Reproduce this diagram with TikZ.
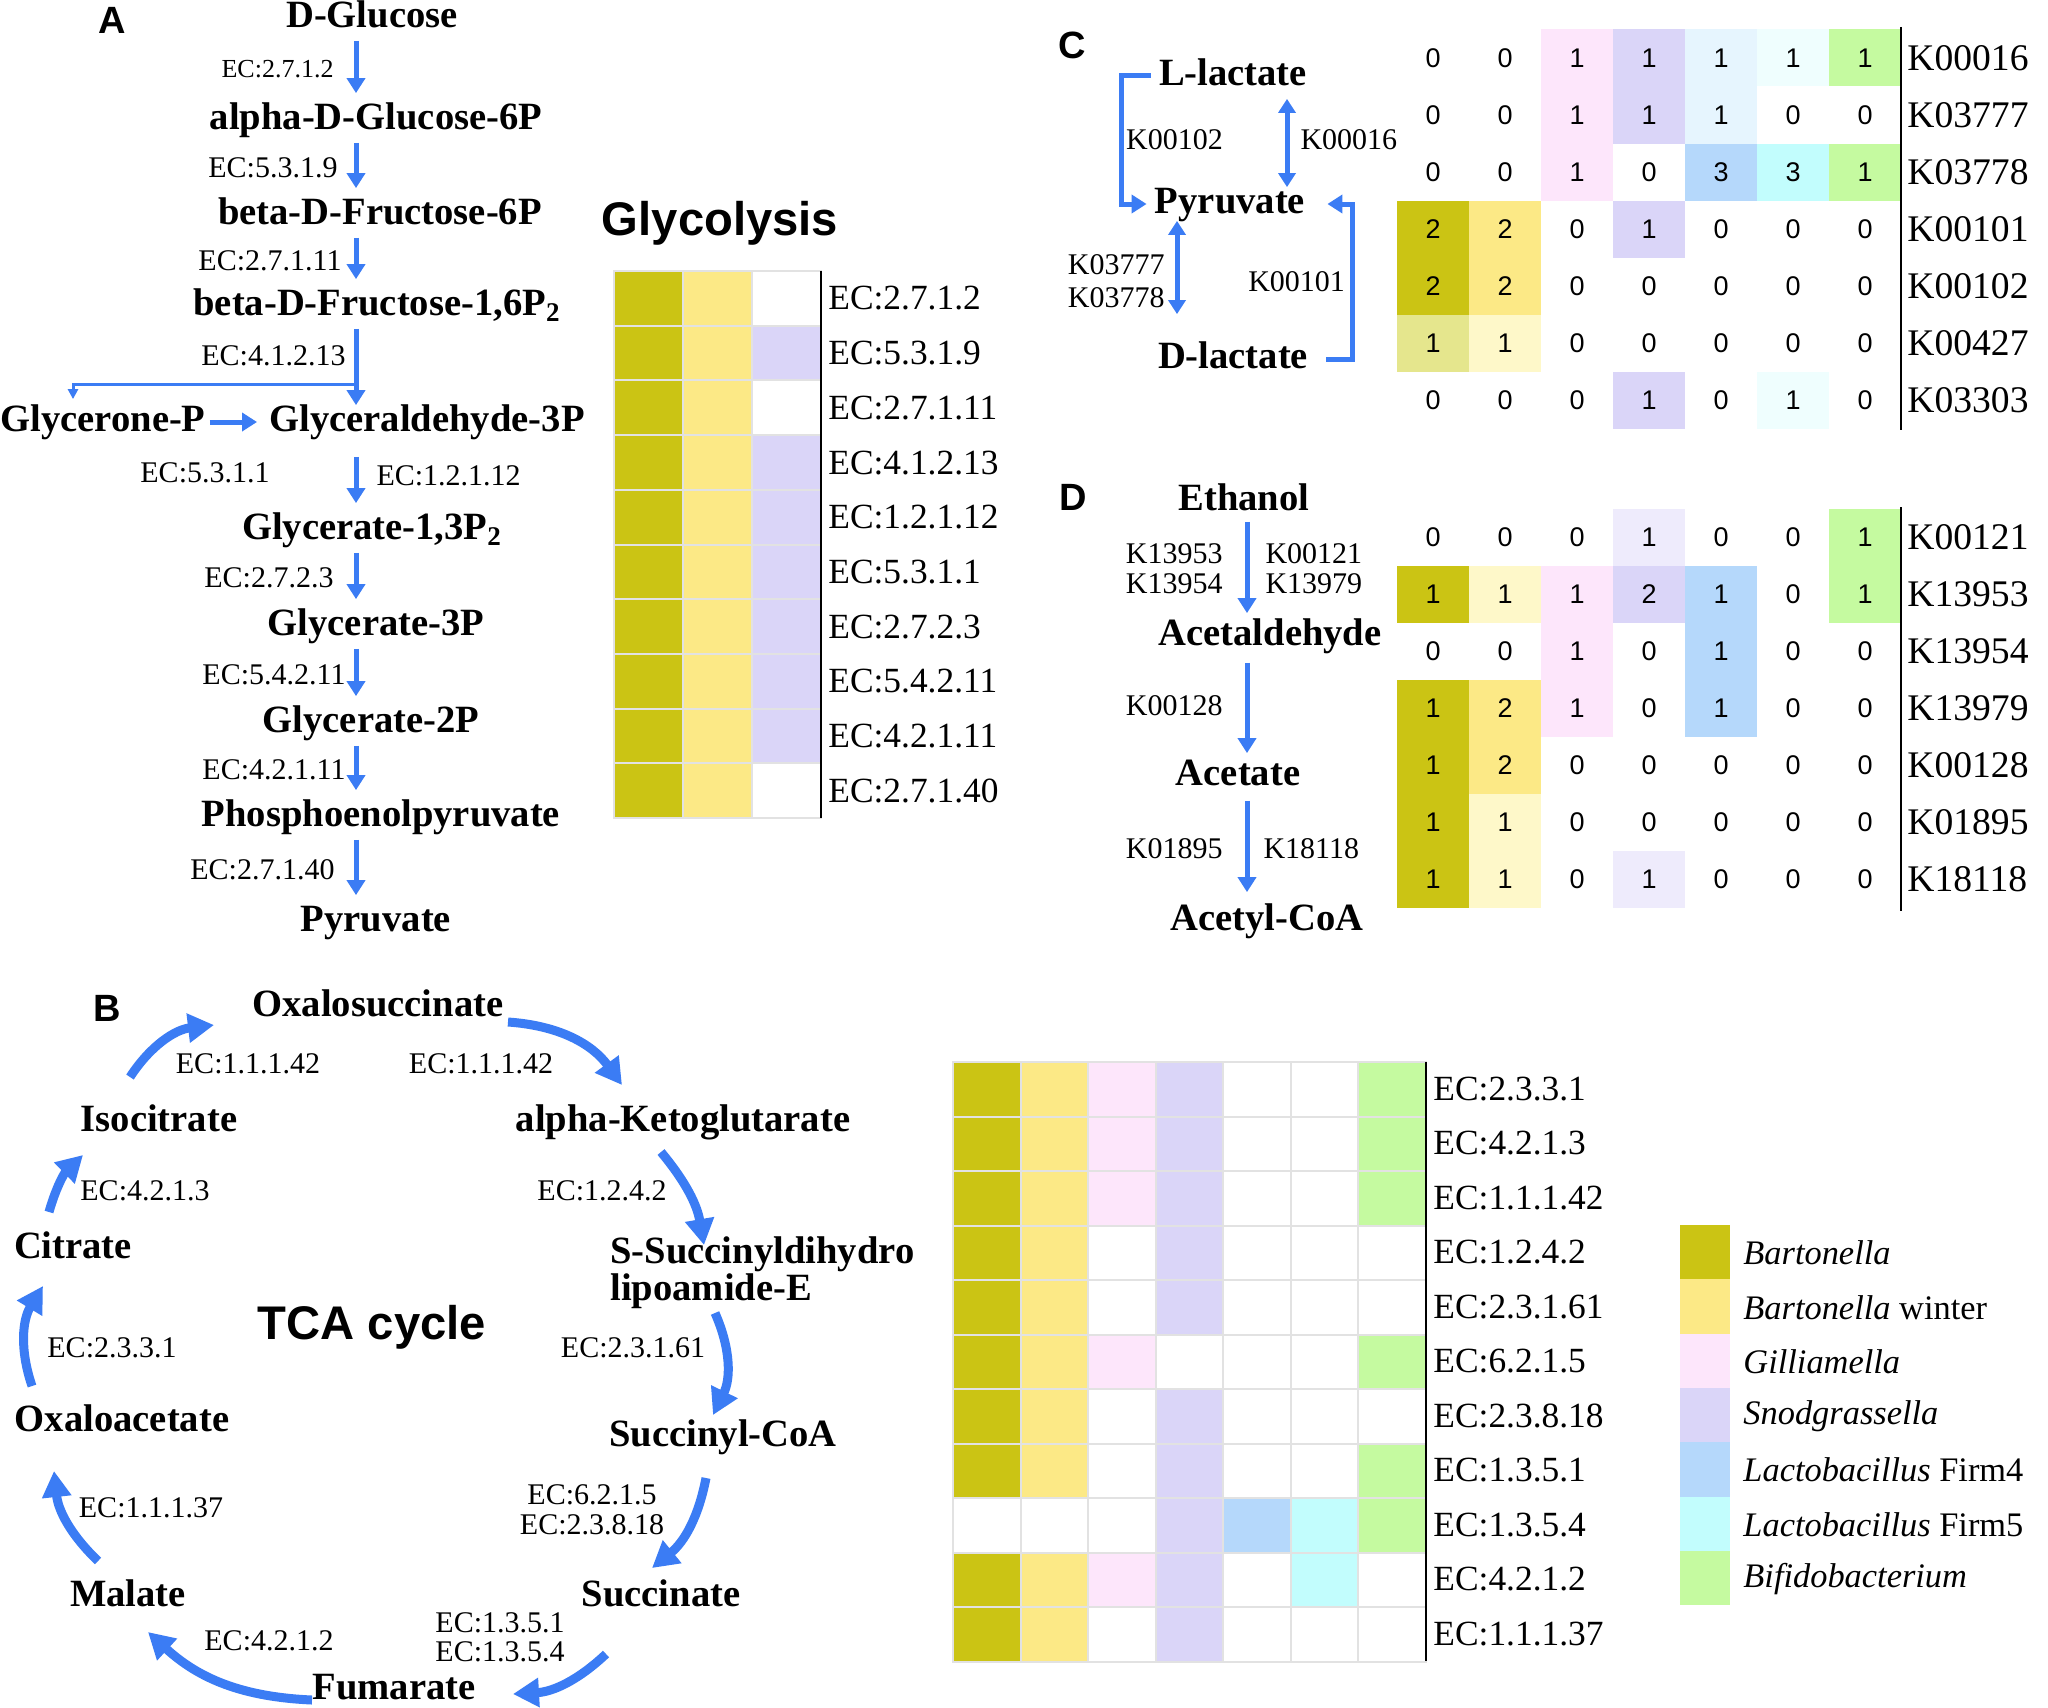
\documentclass[tikz,border=0pt]{standalone}
\usepackage{fontspec}
\setmainfont{Liberation Serif}
\setsansfont{Liberation Sans}
\usetikzlibrary{arrows.meta}

\definecolor{pathblue}{HTML}{3B7CF4}
\definecolor{olv}{HTML}{CBC414}
\definecolor{yel}{HTML}{FCE986}
\definecolor{pnk}{HTML}{FDE6FB}
\definecolor{lav}{HTML}{DAD5F8}
\definecolor{blu}{HTML}{B5D8FB}
\definecolor{cyn}{HTML}{C2FDFD}
\definecolor{grn}{HTML}{C5FAA0}
\definecolor{polv}{HTML}{E5E68D}
\definecolor{pyel}{HTML}{FEF8C9}
\definecolor{plav}{HTML}{EEEBFC}
\definecolor{pblu}{HTML}{E6F5FE}
\definecolor{pcyn}{HTML}{EFFEFE}
\definecolor{gridgray}{HTML}{E2E2E2}

\begin{document}
\begin{tikzpicture}[x=0.5pt,y=-0.5pt]
    \tikzstyle{metab}=[inner sep=0pt,text height=13pt,text depth=3.5pt,font=\fontsize{19.3}{20}\selectfont\bfseries]
    \tikzstyle{metabml}=[inner sep=0pt,align=left,font=\fontsize{19.3}{15.5}\selectfont\bfseries]
    \tikzstyle{ec}=[inner sep=0pt,font=\fontsize{15}{15}\selectfont]
    \tikzstyle{panel}=[inner sep=0pt,font=\fontsize{19}{20}\selectfont\sffamily\bfseries]
    \tikzstyle{heading}=[inner sep=0pt,font=\fontsize{23.6}{24}\selectfont\sffamily\bfseries]
    \tikzstyle{num}=[inner sep=0pt,font=\fontsize{13.5}{14}\selectfont\sffamily]
    \tikzstyle{klab}=[inner sep=0pt,anchor=west,font=\fontsize{18.8}{20}\selectfont]
    \tikzstyle{tcalab}=[inner sep=0pt,anchor=west,font=\fontsize{17.7}{18}\selectfont]
    \tikzstyle{leglab}=[inner sep=0pt,anchor=west,font=\fontsize{17.2}{18}\selectfont]
    \tikzstyle{cell}=[draw=gridgray,line width=1pt]
    \tikzstyle{pathflow}=[draw=pathblue,line width=2.5pt,-{Triangle[length=7.5pt,width=9pt]},shorten <=3pt,shorten >=5pt]
    \tikzstyle{twoway}=[draw=pathblue,line width=2.5pt,{Triangle[length=7pt,width=8.5pt]}-{Triangle[length=7pt,width=8.5pt]}]
    \tikzstyle{tcaflow}=[draw=pathblue,line width=4.5pt,-{Triangle[length=13pt,width=14pt]}]

    \useasboundingbox (0,0) rectangle (2048,1707);
    \fill[white] (0,0) rectangle (2048,1707);

    % A: glycolysis
    \node (pA) at (112,20) [panel] {A};
    \coordinate (axA) at (356,0);
    \node (glc) at (372,18) [metab] {D-Glucose};
    \node (a6p) at (376,120) [metab] {alpha-D-Glucose-6P};
    \node (f6p) at (380,215) [metab] {beta-D-Fructose-6P};
    \node (f16) at (377,306) [metab] {beta-D-Fructose-1,6P\textsubscript{2}};
    \node (gcp) at (103,422) [metab] {Glycerone-P};
    \node (gap) at (427,422) [metab] {Glyceraldehyde-3P};
    \node (g13) at (372,530) [metab] {Glycerate-1,3P\textsubscript{2}};
    \node (g3p) at (376,626) [metab] {Glycerate-3P};
    \node (g2p) at (371,723) [metab] {Glycerate-2P};
    \node (pep) at (381,817) [metab] {Phosphoenolpyruvate};
    \node (pyrA) at (376,922) [metab] {Pyruvate};

    \draw[pathflow] (glc.south -| axA) -- node (e1) [ec,left=10pt,font=\fontsize{13}{14}\selectfont] {EC:2.7.1.2} (a6p.north -| axA);
    \draw[pathflow] (a6p.south -| axA) -- node (e2) [ec,left=8pt] {EC:5.3.1.9} (f6p.north -| axA);
    \draw[pathflow] (f6p.south -| axA) -- node (e3) [ec,left=6pt] {EC:2.7.1.11} (f16.north -| axA);
    \draw[pathflow,shorten >=0pt] (f16.south -| axA) -- node (e4) [pos=0.4,ec,left=4pt] {EC:4.1.2.13} (gap.north -| axA);
    \coordinate (brk) at (356,384);
    \draw[draw=pathblue,line width=1.5pt,-{Triangle[length=5pt,width=5pt]},shorten >=3pt] (brk) -| ([xshift=-15pt]gcp.north);
    \draw[pathflow,shorten <=2pt,shorten >=6pt] (gcp.east) -- (gap.west);
    \node (e5) at (205,473) [ec] {EC:5.3.1.1};
    \draw[pathflow,shorten <=9pt] (gap.south -| axA) -- node (e6) [ec,right=9pt] {EC:1.2.1.12} (g13.north -| axA);
    \draw[pathflow] (g13.south -| axA) -- node (e7) [ec,left=10pt] {EC:2.7.2.3} (g3p.north -| axA);
    \draw[pathflow] (g3p.south -| axA) -- node (e8) [ec,left=4pt] {EC:5.4.2.11} (g2p.north -| axA);
    \draw[pathflow] (g2p.south -| axA) -- node (e9) [ec,left=4pt] {EC:4.2.1.11} (pep.north -| axA);
    \draw[pathflow] (pep.south -| axA) -- node (e10) [ec,left=9.5pt] {EC:2.7.1.40} (pyrA.north -| axA);

    \node (glyco) at (720,223) [heading] {Glycolysis};
    \foreach \lab/\c [count=\i] in {EC:2.7.1.2/white, EC:5.3.1.9/lav, EC:2.7.1.11/white, EC:4.1.2.13/lav, EC:1.2.1.12/lav, EC:5.3.1.1/lav, EC:2.7.2.3/lav, EC:5.4.2.11/lav, EC:4.2.1.11/lav, EC:2.7.1.40/white}{
      \foreach \col [count=\j] in {olv,yel,\c}
        \filldraw[cell,fill=\col] ({614+(\j-1)*69},{271+(\i-1)*54.7}) rectangle ++(69,54.7);
      \node (gly\i) at (828,{298.5+(\i-1)*54.7}) [tcalab] {\lab};
    }
    \draw[line width=1pt] (821,271) -- (821,818);

    % B: TCA cycle
    \node (pB) at (107,1008) [panel] {B};
    \node (tca) at (372,1327) [heading] {TCA cycle};
    \node (oxs) at (378,1007) [metab] {Oxalosuccinate};
    \node (iso) at (159,1122) [metab] {Isocitrate};
    \node (akg) at (683,1122) [metab] {alpha-Ketoglutarate};
    \node (cit) at (73,1249) [metab] {Citrate};
    \node (ssc) at (610,1273) [metabml,anchor=west] {S-Succinyldihydro\\lipoamide-E};
    \node (oaa) at (122,1422) [metab] {Oxaloacetate};
    \node (sco) at (723,1437) [metab] {Succinyl-CoA};
    \node (mal) at (128,1597) [metab] {Malate};
    \node (suc) at (661,1597) [metab] {Succinate};
    \node (fum) at (394,1690) [metab] {Fumarate};

    \coordinate (isoOut) at (130,1077); \coordinate (oxsIn) at (214,1025);
    \coordinate (oxsOut) at (508,1022); \coordinate (akgIn) at (622,1085);
    \coordinate (citOut) at (49,1212);  \coordinate (isoIn) at (83,1155);
    \coordinate (akgOut) at (661,1152); \coordinate (sscIn) at (704,1245);
    \coordinate (oaaOut) at (32,1386);  \coordinate (citIn) at (43,1286);
    \coordinate (sscOut) at (715,1313); \coordinate (scoIn) at (713,1415);
    \coordinate (malOut) at (98,1561);  \coordinate (oaaIn) at (54,1471);
    \coordinate (scoOut) at (706,1478); \coordinate (sucIn) at (652,1568);
    \coordinate (sucOut) at (606,1654); \coordinate (fumIn) at (513,1694);
    \coordinate (fumOut) at (312,1700); \coordinate (malIn) at (148,1632);

    \draw[tcaflow] (isoOut) to[bend left=25] (oxsIn);
    \draw[tcaflow] (oxsOut) to[bend left=25] (akgIn);
    \draw[tcaflow] (citOut) to[bend left=15] (isoIn);
    \draw[tcaflow] (akgOut) to[bend left=15] (sscIn);
    \draw[tcaflow] (oaaOut) to[bend left=25] (citIn);
    \draw[tcaflow] (sscOut) to[bend left=25] (scoIn);
    \draw[tcaflow] (malOut) to[bend left=20] (oaaIn);
    \draw[tcaflow] (scoOut) to[bend left=20] (sucIn);
    \draw[tcaflow] (sucOut) to[bend left=20] (fumIn);
    \draw[tcaflow] (fumOut) to[bend left=20] (malIn);

    \node (t1) at (248,1064) [ec] {EC:1.1.1.42};
    \node (t2) at (481,1064) [ec] {EC:1.1.1.42};
    \node (t3) at (145,1191) [ec] {EC:4.2.1.3};
    \node (t4) at (602,1191) [ec] {EC:1.2.4.2};
    \node (t5) at (112,1348) [ec] {EC:2.3.3.1};
    \node (t6) at (633,1348) [ec] {EC:2.3.1.61};
    \node (t7) at (151,1508) [ec] {EC:1.1.1.37};
    \node (t8) at (592,1510) [ec,align=center] {EC:6.2.1.5\\EC:2.3.8.18};
    \node (t9) at (500,1637) [ec,align=center,font=\fontsize{15}{14.5}\selectfont] {EC:1.3.5.1\\EC:1.3.5.4};
    \node (t10) at (269,1641) [ec] {EC:4.2.1.2};

    \foreach \lab/\cols [count=\i] in {EC:2.3.3.1/{olv,yel,pnk,lav,white,white,grn}, EC:4.2.1.3/{olv,yel,pnk,lav,white,white,grn}, EC:1.1.1.42/{olv,yel,pnk,lav,white,white,grn}, EC:1.2.4.2/{olv,yel,white,lav,white,white,white}, EC:2.3.1.61/{olv,yel,white,lav,white,white,white}, EC:6.2.1.5/{olv,yel,pnk,white,white,white,grn}, EC:2.3.8.18/{olv,yel,white,lav,white,white,white}, EC:1.3.5.1/{olv,yel,white,lav,white,white,grn}, EC:1.3.5.4/{white,white,white,lav,blu,cyn,grn}, EC:4.2.1.2/{olv,yel,pnk,lav,white,cyn,white}, EC:1.1.1.37/{olv,yel,white,lav,white,white,white}}{
      \foreach \col [count=\j] in \cols
        \filldraw[cell,fill=\col] ({953+(\j-1)*67.5},{1062+(\i-1)*54.5}) rectangle ++(67.5,54.5);
      \node (tcar\i) at (1433,{1089+(\i-1)*54.5}) [tcalab] {\lab};
    }
    \draw[line width=1pt] (1426,1062) -- (1426,1661);

    % legend
    \foreach \col/\lab [count=\i] in {olv/\textit{Bartonella}, yel/\textit{Bartonella} winter, pnk/\textit{Gilliamella}, lav/\textit{Snodgrassella}, blu/\textit{Lactobacillus} Firm4, cyn/\textit{Lactobacillus} Firm5, grn/\textit{Bifidobacterium}}{
      \fill[\col] (1680,{1225+(\i-1)*54.3}) rectangle ++(50,54.6);
      \node (leg\i) at (1743,{1253+(\i-1)*54.3}) [leglab] {\lab};
    }

    % C: lactate
    \node (pC) at (1072,45) [panel] {C};
    \node (llac) at (1233,76) [metab] {L-lactate};
    \node (pyrC) at (1230,204) [metab] {Pyruvate};
    \node (dlac) at (1233,359) [metab] {D-lactate};
    \coordinate (kxa) at (1287,0);
    \coordinate (kxb) at (1177,0);
    \draw[pathflow,shorten <=4pt,shorten >=4pt] (llac.west) -- ++(-37,0) |- node (k1) [ec,pos=0.25,right=1pt] {K00102} (pyrC.west);
    \draw[twoway,shorten <=3pt] (llac.south -| kxa) -- node (k2) [ec,right=5.5pt] {K00016} (pyrC.north -| kxa);
    \draw[twoway,shorten >=14pt] (pyrC.south -| kxb) -- node (k3) [ec,left=5pt,align=right,font=\fontsize{15}{16.5}\selectfont] {K03777\\K03778} (dlac.north -| kxb);
    \draw[pathflow,shorten <=9pt,shorten >=11pt] (dlac.east) -- ++(44,0) |- node (k4) [ec,pos=0.25,left=2.5pt] {K00101} (pyrC.east);

    \foreach \lab/\vals/\cols [count=\i] in {K00016/{0,0,1,1,1,1,1}/{white,white,pnk,lav,pblu,pcyn,grn}, K03777/{0,0,1,1,1,0,0}/{white,white,pnk,lav,pblu,white,white}, K03778/{0,0,1,0,3,3,1}/{white,white,pnk,white,blu,cyn,grn}, K00101/{2,2,0,1,0,0,0}/{olv,yel,white,lav,white,white,white}, K00102/{2,2,0,0,0,0,0}/{olv,yel,white,white,white,white,white}, K00427/{1,1,0,0,0,0,0}/{polv,pyel,white,white,white,white,white}, K03303/{0,0,0,1,0,1,0}/{white,white,white,lav,white,pcyn,white}}{
      \foreach \col [count=\j] in \cols
        \fill[\col] ({1397+(\j-1)*72},{29.5+(\i-1)*57}) rectangle ++(72.4,57.4);
      \foreach \v [count=\j] in \vals
        \node (cv\i-\j) at ({1433+(\j-1)*72},{58+(\i-1)*57}) [num] {\v};
      \node (ck\i) at (1907,{58+(\i-1)*57}) [klab] {\lab};
    }
    \draw[line width=1pt] (1901,27) -- (1901,430);

    % D: ethanol
    \node (pD) at (1073,497) [panel] {D};
    \coordinate (dx) at (1247,0);
    \node (eth) at (1244,501) [metab] {Ethanol};
    \node (acd) at (1270,636) [metab] {Acetaldehyde};
    \node (act) at (1238,776) [metab] {Acetate};
    \node (acc) at (1267,921) [metab] {Acetyl-CoA};
    \draw[pathflow,shorten <=2pt,shorten >=3pt] (eth.south -| dx) -- node (k5) [ec,left=11pt,align=right] {K13953\\K13954} node (k6) [ec,right=8pt,align=left] {K00121\\K13979} (acd.north -| dx);
    \draw[pathflow,shorten <=5pt,shorten >=3pt] (acd.south -| dx) -- node (k7) [ec,left=11pt] {K00128} (act.north -| dx);
    \draw[pathflow,shorten <=4pt,shorten >=6pt] (act.south -| dx) -- node (k8) [ec,left=11pt] {K01895} node (k9) [ec,right=7pt] {K18118} (acc.north -| dx);

    \foreach \lab/\vals/\cols [count=\i] in {K00121/{0,0,0,1,0,0,1}/{white,white,white,plav,white,white,grn}, K13953/{1,1,1,2,1,0,1}/{olv,pyel,pnk,lav,blu,white,grn}, K13954/{0,0,1,0,1,0,0}/{white,white,pnk,white,blu,white,white}, K13979/{1,2,1,0,1,0,0}/{olv,yel,pnk,white,blu,white,white}, K00128/{1,2,0,0,0,0,0}/{olv,yel,white,white,white,white,white}, K01895/{1,1,0,0,0,0,0}/{olv,pyel,white,white,white,white,white}, K18118/{1,1,0,1,0,0,0}/{olv,pyel,white,plav,white,white,white}}{
      \foreach \col [count=\j] in \cols
        \fill[\col] ({1397+(\j-1)*72},{509+(\i-1)*57}) rectangle ++(72.4,57.4);
      \foreach \v [count=\j] in \vals
        \node (dv\i-\j) at ({1433+(\j-1)*72},{537.5+(\i-1)*57}) [num] {\v};
      \node (dk\i) at (1907,{537.5+(\i-1)*57}) [klab] {\lab};
    }
    \draw[line width=1pt] (1901,507) -- (1901,911);
\end{tikzpicture}
\end{document}
